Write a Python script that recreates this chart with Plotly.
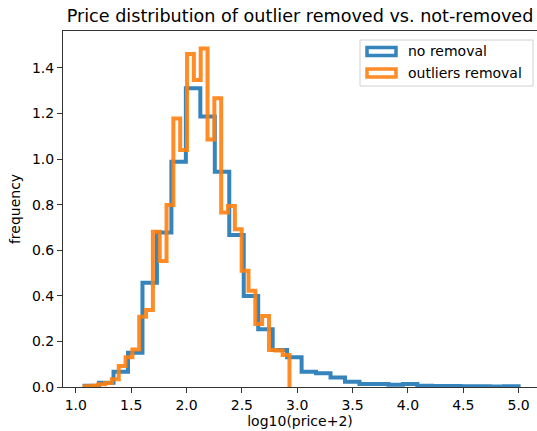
import plotly.graph_objects as go

# ---- data (density-normalised step histograms) ----
blue_min, blue_max = 1.079, 5.0
blue_vals = [0.005, 0.019, 0.067, 0.150, 0.457, 0.678, 0.988, 1.310, 1.186, 0.944,
             0.667, 0.399, 0.253, 0.162, 0.130, 0.067, 0.060, 0.042, 0.023, 0.013,
             0.013, 0.010, 0.013, 0.005, 0.004, 0.004, 0.003, 0.003, 0.002, 0.003]
orange_min, orange_max = 1.079, 2.930
orange_vals = [0.003, 0.005, 0.012, 0.018, 0.034, 0.092, 0.130, 0.165, 0.308, 0.338,
               0.681, 0.553, 0.798, 1.178, 1.040, 1.460, 1.346, 1.485, 1.086, 1.266,
               0.765, 0.794, 0.692, 0.510, 0.422, 0.276, 0.311, 0.162, 0.160, 0.140]
series_names = ["no removal", "outliers removal"]
x_ticks = [1.0, 1.5, 2.0, 2.5, 3.0, 3.5, 4.0, 4.5, 5.0]
y_ticks = [0.0, 0.2, 0.4, 0.6, 0.8, 1.0, 1.2, 1.4]

BLUE = "rgba(31,119,180,0.9)"
ORANGE = "rgba(255,127,14,0.9)"
FONT = "DejaVu Sans"
SPINE = "#333333"


def step_xy(lo, hi, vals):
    n = len(vals)
    w = (hi - lo) / n
    edges = [lo + i * w for i in range(n + 1)]
    xs = [edges[0]] + edges
    ys = [0] + list(vals) + [0]
    return xs, ys


fig = go.Figure()
for (lo, hi, vals), col, name in zip(
        [(blue_min, blue_max, blue_vals), (orange_min, orange_max, orange_vals)],
        [BLUE, ORANGE], series_names):
    xs, ys = step_xy(lo, hi, vals)
    fig.add_trace(go.Scatter(x=xs, y=ys, mode="lines", line_shape="hv",
                             line=dict(color=col, width=4), name=name,
                             showlegend=False, hoverinfo="skip"))

W, H = 537, 431
L, R, T, B = 63, 0, 31, 44
pw, ph = W - L - R, H - T - B


def px(xp):
    return (xp - L) / pw


def py(yp):
    return (H - B - yp) / ph


# custom legend mimicking matplotlib patch handles
shapes = [dict(type="rect", xref="paper", yref="paper",
               x0=px(360), x1=px(533), y0=py(86), y1=py(40),
               line=dict(color="#d0d0d0", width=1), fillcolor="rgba(255,255,255,0.8)",
               layer="above")]
annotations = []
for i, (col, name) in enumerate(zip([BLUE, ORANGE], series_names)):
    yc = 51.5 + i * 21.5
    shapes.append(dict(type="rect", xref="paper", yref="paper",
                       x0=px(367), x1=px(396), y0=py(yc + 4), y1=py(yc - 4),
                       line=dict(color=col, width=3.5), fillcolor="rgba(0,0,0,0)",
                       layer="above"))
    annotations.append(dict(xref="paper", yref="paper", x=px(406), y=py(yc),
                            xanchor="left", yanchor="middle", text=name,
                            showarrow=False, font=dict(family=FONT, size=14, color="black")))

fig.update_layout(
    width=W, height=H,
    margin=dict(l=L, r=R, t=T, b=B),
    paper_bgcolor="white", plot_bgcolor="white",
    font=dict(family=FONT, size=14, color="black"),
    title=dict(text="Price distribution of outlier removed vs. not-removed",
               x=px(300), xref="paper", xanchor="center",
               y=1 - 16 / H, yref="container", yanchor="middle",
               font=dict(family=FONT, size=17.6, color="black")),
    shapes=shapes, annotations=annotations,
    xaxis=dict(range=[0.884, 1 + (W - 75.4) / 110.8], tickvals=x_ticks,
               ticktext=[f"{v:.1f}" for v in x_ticks],
               showgrid=False, zeroline=False, showline=True, linecolor=SPINE,
               linewidth=1, mirror=True, ticks="outside", ticklen=5, tickcolor=SPINE,
               tickfont=dict(size=14),
               title=dict(text="log10(price+2)", font=dict(size=14), standoff=3)),
    yaxis=dict(range=[0, (387 - 31) / 228], tickvals=y_ticks,
               ticktext=[f"{v:.1f}" for v in y_ticks],
               showgrid=False, zeroline=False, showline=True, linecolor=SPINE,
               linewidth=1, ticks="outside", ticklen=5, tickcolor=SPINE,
               tickfont=dict(size=14),
               title=dict(text="frequency", font=dict(size=14), standoff=8)),
)

fig.write_html("out.html", config={"displayModeBar": False},
               post_script="document.body.style.margin='0';document.body.style.padding='0';")
